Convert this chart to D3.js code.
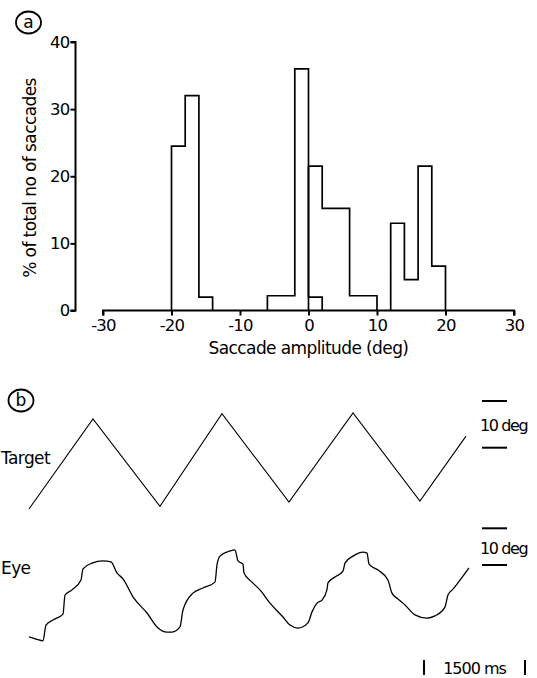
<!DOCTYPE html>
<html>
<head>
<meta charset="utf-8">
<script src="https://cdn.jsdelivr.net/npm/d3@7"></script>
<style>
  body { margin: 0; background: #fff; }
  svg text { font-family: "DejaVu Sans", sans-serif; fill: #000; }
</style>
</head>
<body>
<div id="chart"></div>
<script>
// (a) histogram, 2 deg bins, % of total no of saccades
const binWidth = 2
const leftStarts = [-20, -18, -16]
const leftPct = [24.5, 32, 2]
const centreStartsA = [-6, -4, -2, 0]
const centrePctA = [2.2, 2.2, 36, 2]
const centreStartsB = [0, 2, 4, 6, 8]
const centrePctB = [21.5, 15.2, 15.2, 2.2, 2.2]
const rightStarts = [12, 14, 16, 18]
const rightPct = [13, 4.6, 21.5, 6.6]
const xTicks = [-30, -20, -10, 0, 10, 20, 30]
const yTicks = [0, 10, 20, 30, 40]

// (b) traces, time in ms, position in deg
const targetTime = [0, 950, 1945, 2866, 3861, 4812, 5806, 6490]
const targetDeg = [-10.5, 8.8, -9.9, 9.9, -9.0, 10.1, -8.8, 5.1]
const eyeTime = [0, 104, 208, 252, 356, 505, 535, 639, 772, 802, 936, 1099, 1218, 1307, 1396,
  1544, 1752, 1916, 2049, 2124, 2242, 2287, 2435, 2584, 2762, 2792, 2836, 2985, 3059, 3104,
  3178, 3193, 3312, 3430, 3579, 3772, 3876, 3995, 4143, 4203, 4277, 4351, 4425, 4440, 4544,
  4663, 4693, 4812, 4960, 5020, 5050, 5183, 5331, 5391, 5480, 5584, 5732, 5910, 6029, 6178,
  6222, 6297, 6534]
const eyeDeg = [-11.4, -12.0, -12.5, -8.2, -6.8, -5.2, 0.0, 1.4, 4.1, 7.1, 8.7, 9.3, 9.0, 6.0, 4.4,
  -0.5, -4.9, -9.0, -10.1, -10.1, -8.7, -4.1, 0.5, 1.9, 3.5, 8.2, 10.6, 12.0, 12.3, 9.3,
  8.4, 6.0, 3.5, 1.4, -2.2, -6.0, -8.2, -9.0, -7.6, -4.6, -2.2, -1.4, 1.4, 3.3, 4.9,
  6.5, 8.7, 10.6, 11.7, 11.4, 8.4, 6.8, 4.1, 0.5, -1.1, -2.7, -5.4, -6.3, -5.7, -3.3,
  0.0, 1.6, 7.4]
const scaleDeg = 10
const scaleMs = 1500

const W = 537, H = 678
const svg = d3.select("#chart").append("svg")
  .attr("width", W)
  .attr("height", H)

// ---------- panel a ----------
const x = d3.scaleLinear().domain([-30, 30]).range([103, 514])
const y = d3.scaleLinear().domain([0, 40]).range([310.5, 42])

const a = svg.append("g")

// step outline for a run of bins
function stepPoints(starts, vals) {
  let pts = [[starts[0], 0]]
  starts.forEach(function (s, i) {
    pts.push([s, vals[i]])
    pts.push([s + binWidth, vals[i]])
  })
  pts.push([starts[starts.length - 1] + binWidth, 0])
  return pts
}
const histLine = d3.line().x(d => x(d[0])).y(d => y(d[1]))
const groups = [
  stepPoints(leftStarts, leftPct),
  stepPoints(centreStartsA, centrePctA),
  stepPoints(centreStartsB, centrePctB),
  stepPoints(rightStarts, rightPct)
]
a.selectAll(".hist")
  .data(groups)
  .enter()
  .append("path")
  .attr("class", "hist")
  .attr("d", histLine)
  .style("fill", "none")
  .style("stroke", "#000")
  .style("stroke-width", "1.7px")

// x axis
const xAxis = a.append("g").attr("transform", "translate(0," + y(0) + ")")
  .call(d3.axisBottom(x).tickValues(xTicks).tickSize(5).tickPadding(4)
    .tickFormat(d => d < 0 ? "-" + Math.abs(d) : d))
xAxis.select(".domain").attr("d", "M" + x(-30) + ",5V0H" + x(30) + "V5")
xAxis.selectAll("line, .domain").style("stroke", "#000").style("stroke-width", "2px")
xAxis.selectAll("text").style("font-size", "16.5px").style("letter-spacing", "-0.8px")
  .style("font-family", "'DejaVu Sans', sans-serif").attr("fill", "#000")

// y axis
const yAxis = a.append("g").attr("transform", "translate(75.5,0)")
  .call(d3.axisLeft(y).tickValues(yTicks).tickSize(5).tickPadding(1))
yAxis.select(".domain").attr("d", "M-5," + y(40) + "H0V" + y(0) + "H-5")
yAxis.selectAll("line, .domain").style("stroke", "#000").style("stroke-width", "2px")
yAxis.selectAll("text").style("font-size", "16.5px").style("letter-spacing", "-0.8px")
  .style("font-family", "'DejaVu Sans', sans-serif").attr("fill", "#000")

a.append("text")
  .attr("transform", "translate(36,178) rotate(-90)")
  .attr("text-anchor", "middle")
  .style("font-size", "17px")
  .style("letter-spacing", "-0.6px")
  .text("% of total no of saccades")

a.append("text")
  .attr("x", x(0))
  .attr("y", 354)
  .attr("text-anchor", "middle")
  .style("font-size", "17px")
  .style("letter-spacing", "-0.6px")
  .text("Saccade amplitude (deg)")

// panel letters
function panelLetter(cx, cy, letter) {
  svg.append("ellipse")
    .attr("cx", cx).attr("cy", cy).attr("rx", 12.5).attr("ry", 11)
    .style("fill", "none").style("stroke", "#000").style("stroke-width", "1.8px")
  svg.append("text")
    .attr("x", cx).attr("y", cy + 5.5)
    .attr("text-anchor", "middle")
    .style("font-size", "17px")
    .text(letter)
}
panelLetter(28.5, 22.5, "a")
panelLetter(21, 400.5, "b")

// ---------- panel b ----------
const t = d3.scaleLinear().domain([0, scaleMs]).range([29, 130])
const yT = d3.scaleLinear().domain([0, 10]).range([460, 413.3])
const yE = d3.scaleLinear().domain([0, 10]).range([595, 558.3])

const b = svg.append("g")

b.append("path")
  .datum(d3.zip(targetTime, targetDeg))
  .attr("d", d3.line().x(d => t(d[0])).y(d => yT(d[1])))
  .style("fill", "none")
  .style("stroke", "#000")
  .style("stroke-width", "1.1px")

b.append("path")
  .datum(d3.zip(eyeTime, eyeDeg))
  .attr("d", d3.line().curve(d3.curveMonotoneX).x(d => t(d[0])).y(d => yE(d[1])))
  .style("fill", "none")
  .style("stroke", "#000")
  .style("stroke-width", "1.3px")

b.append("text").attr("x", 1).attr("y", 464)
  .style("font-size", "17px").style("letter-spacing", "-0.6px").text("Target")
b.append("text").attr("x", 1).attr("y", 574)
  .style("font-size", "17px").style("letter-spacing", "-0.6px").text("Eye")

// 10 deg scale bars
function degBar(top, scale) {
  const len = scale(0) - scale(scaleDeg)
  b.append("line").attr("x1", 482).attr("x2", 507).attr("y1", top).attr("y2", top)
    .style("stroke", "#000").style("stroke-width", "2px")
  b.append("line").attr("x1", 482).attr("x2", 507).attr("y1", top + len).attr("y2", top + len)
    .style("stroke", "#000").style("stroke-width", "2px")
  b.append("text").attr("x", 480).attr("y", top + len / 2 + 7)
    .style("font-size", "16px").style("letter-spacing", "-1.4px").text("10 deg")
}
degBar(401, yT)
degBar(528.3, yE)

// 1500 ms time bar
const tx0 = 424, tx1 = tx0 + (t(scaleMs) - t(0))
b.append("line").attr("x1", tx0).attr("x2", tx0).attr("y1", 660).attr("y2", 675)
  .style("stroke", "#000").style("stroke-width", "2px")
b.append("line").attr("x1", tx1).attr("x2", tx1).attr("y1", 660).attr("y2", 675)
  .style("stroke", "#000").style("stroke-width", "2px")
b.append("text").attr("x", (tx0 + tx1) / 2).attr("y", 674)
  .attr("text-anchor", "middle")
  .style("font-size", "16px").style("letter-spacing", "-1px")
  .text("1500 ms")
</script>
</body>
</html>
